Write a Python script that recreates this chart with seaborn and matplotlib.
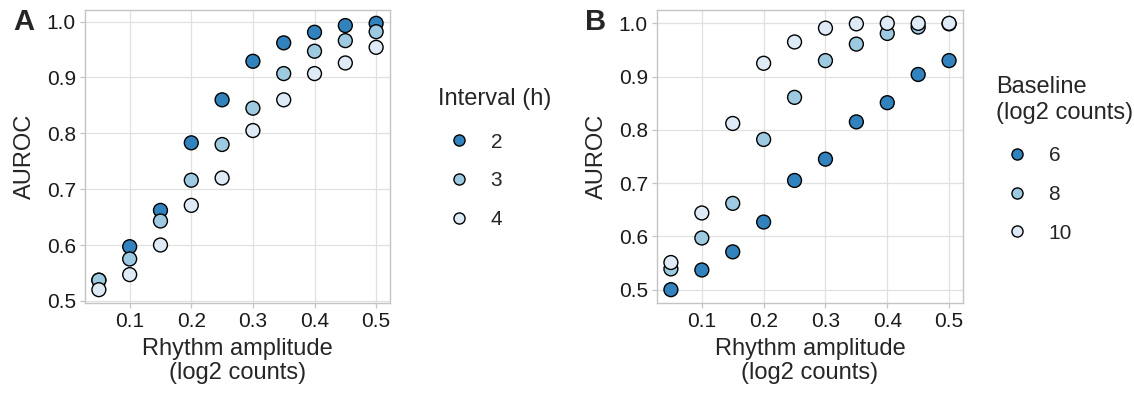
import numpy as np
import pandas as pd
import seaborn as sns
from matplotlib import pyplot as plt

# rhythm amplitude (log2 counts)
amplitude = [0.05, 0.10, 0.15, 0.20, 0.25, 0.30, 0.35, 0.40, 0.45, 0.50]

# panel A: AUROC by sampling interval (h)
interval_levels = ["2", "3", "4"]
auroc_int2 = [0.537, 0.597, 0.662, 0.783, 0.860, 0.929, 0.962, 0.981, 0.993, 0.997]
auroc_int3 = [0.537, 0.575, 0.643, 0.716, 0.780, 0.845, 0.907, 0.947, 0.966, 0.982]
auroc_int4 = [0.520, 0.547, 0.600, 0.671, 0.720, 0.805, 0.860, 0.907, 0.926, 0.954]

# panel B: AUROC by baseline (log2 counts)
baseline_levels = ["6", "8", "10"]
auroc_base6 = [0.500, 0.537, 0.571, 0.627, 0.705, 0.745, 0.815, 0.851, 0.904, 0.930]
auroc_base8 = [0.539, 0.597, 0.662, 0.782, 0.861, 0.930, 0.961, 0.981, 0.993, 0.999]
auroc_base10 = [0.551, 0.644, 0.812, 0.925, 0.965, 0.991, 0.999, 1.000, 1.000, 1.000]

blues = ["#3182bd", "#9ecae1", "#deebf7"]

df_a = pd.DataFrame({
    "amp": amplitude * 3,
    "auroc": auroc_int2 + auroc_int3 + auroc_int4,
    "grp": [g for g in interval_levels for _ in amplitude],
})
df_b = pd.DataFrame({
    "amp": amplitude * 3,
    "auroc": auroc_base6 + auroc_base8 + auroc_base10,
    "grp": [g for g in baseline_levels for _ in amplitude],
})

sns.set_style("white")
plt.rcParams["font.family"] = ["Liberation Sans", "DejaVu Sans"]

fig = plt.figure(figsize=(11.34, 3.94), dpi=100)
ax_a = fig.add_axes([85 / 1134, 1 - 303 / 394, 305 / 1134, 293 / 394])
ax_b = fig.add_axes([657 / 1134, 1 - 303 / 394, 306 / 1134, 293 / 394])

# axes, data, levels, legend title, panel letter, legend x / top (px)
panels = [
    (ax_a, df_a, interval_levels, "Interval (h)", "A", 428, 78),
    (ax_b, df_b, baseline_levels, "Baseline\n(log2 counts)", "B", 986, 66),
]

for ax, df, levels, ltitle, letter, lx, ly in panels:
    sns.scatterplot(data=df, x="amp", y="auroc", hue="grp", hue_order=levels,
                    palette=blues, s=100, edgecolor="black", linewidth=1.0,
                    ax=ax, zorder=3)
    ax.set_xticks([0.1, 0.2, 0.3, 0.4, 0.5])
    ax.set_yticks([0.5, 0.6, 0.7, 0.8, 0.9, 1.0])
    ax.set_xticklabels(["0.1", "0.2", "0.3", "0.4", "0.5"])
    ax.set_yticklabels(["0.5", "0.6", "0.7", "0.8", "0.9", "1.0"])
    ax.margins(0.05)
    ax.grid(True, color="#e0e0e0", linewidth=0.9, zorder=0)
    ax.set_axisbelow(True)
    for sp in ax.spines.values():
        sp.set_color("#c4c4c4")
        sp.set_linewidth(1.0)
    ax.tick_params(axis="both", which="major", labelsize=15, length=3.5,
                   width=0.9, color="#c4c4c4", pad=3, labelcolor="#1a1a1a",
                   bottom=True, left=True)
    ax.set_xlabel("Rhythm amplitude\n(log2 counts)", fontsize=17, labelpad=5,
                  linespacing=1.1)
    ax.set_ylabel("AUROC", fontsize=17, labelpad=8)
    ax.text(-0.236, 0.959, letter, transform=ax.transAxes, fontsize=21,
            fontweight="bold", ha="left", va="center")

    h, l = ax.get_legend_handles_labels()
    leg = ax.legend(h, l, title=ltitle, frameon=False, loc="upper left",
                    bbox_to_anchor=(lx / 1134, 1 - ly / 394),
                    bbox_transform=fig.transFigure,
                    fontsize=15, title_fontsize=17, markerscale=0.8,
                    labelspacing=0.95, handletextpad=0.5, handlelength=2.0,
                    alignment="left", borderpad=0)
    leg._legend_box.sep = 16

fig.savefig("out.png", dpi=100)
